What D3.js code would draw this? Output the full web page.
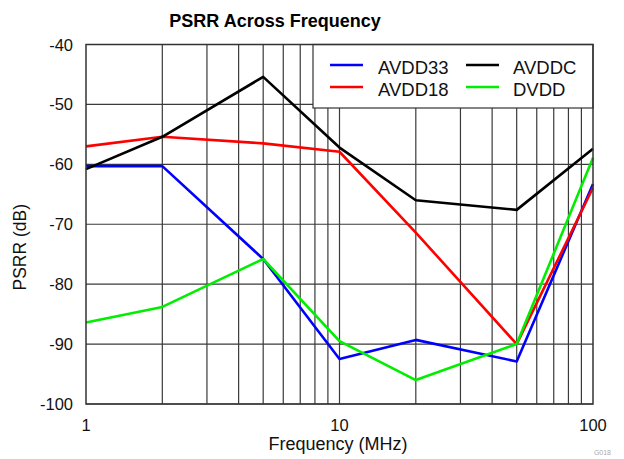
<!DOCTYPE html>
<html>
<head>
<meta charset="utf-8">
<script src="https://cdn.jsdelivr.net/npm/d3@7"></script>
<style>
  body { margin: 0; background: #fff; }
  text { font-family: "Liberation Sans", Arial, sans-serif; }
</style>
</head>
<body>
<svg id="chart" width="624" height="459"></svg>
<script>
const freqs = [1, 2, 5, 10, 20, 50, 100]
const avdd33 = [-60.3, -60.3, -75.8, -92.5, -89.3, -92.9, -63.3]
const avdd18 = [-57.0, -55.4, -56.5, -57.9, -71.4, -90.0, -63.9]
const avddc = [-60.8, -55.4, -45.4, -57.2, -66.0, -67.6, -57.4]
const dvdd = [-86.4, -83.8, -75.8, -89.5, -96.0, -90.0, -58.9]
const yTicks = [-100, -90, -80, -70, -60, -50, -40]
const xTicks = [1, 10, 100]

const series = [
  {name: 'AVDD33', values: avdd33, color: '#0000ff'},
  {name: 'AVDD18', values: avdd18, color: '#ff0000'},
  {name: 'AVDDC', values: avddc, color: '#000000'},
  {name: 'DVDD', values: dvdd, color: '#00ee00'},
]

const svg = d3.select('#chart')
const margin = {top: 44.5, right: 31, bottom: 55, left: 86}
const width = 624, height = 459

const x = d3.scaleLog().domain([1, 100]).range([margin.left, width - margin.right])
const y = d3.scaleLinear().domain([-100, -40]).range([height - margin.bottom, margin.top])

// grid
const minor = []
for (let d = 1; d < 100; d *= 10) for (let k = 2; k <= 9; k++) minor.push(d * k)
minor.push(10)

svg.append('g').selectAll('line').data(minor).enter().append('line')
  .attr('x1', d => x(d)).attr('x2', d => x(d))
  .attr('y1', y(-40)).attr('y2', y(-100))
  .attr('stroke', '#3a3a3a').attr('stroke-width', 1.2)

svg.append('g').selectAll('line').data(yTicks).enter().append('line')
  .attr('x1', x(1)).attr('x2', x(100))
  .attr('y1', d => y(d)).attr('y2', d => y(d))
  .attr('stroke', '#3a3a3a').attr('stroke-width', 1.2)

// legend box (covers grid)
const lg = svg.append('g')
lg.append('rect')
  .attr('x', 313).attr('y', y(-40)).attr('width', x(100) - 313).attr('height', 108 - y(-40))
  .attr('fill', '#fff').attr('stroke', '#333').attr('stroke-width', 1.2)

// lines
const line = d3.line().x((d, i) => x(freqs[i])).y(d => y(d))
svg.append('g').selectAll('path').data(series).enter().append('path')
  .attr('d', d => line(d.values))
  .attr('fill', 'none')
  .attr('stroke', d => d.color)
  .attr('stroke-width', 2.6)
  .attr('stroke-linejoin', 'round')

// frame
svg.append('rect')
  .attr('x', x(1)).attr('y', y(-40)).attr('width', x(100) - x(1)).attr('height', y(-100) - y(-40))
  .attr('fill', 'none').attr('stroke', '#333').attr('stroke-width', 1.5)

// legend entries
const legendPos = [
  {lx: 330, tx: 378, ty: 65},
  {lx: 330, tx: 378, ty: 87},
  {lx: 466, tx: 513, ty: 65},
  {lx: 466, tx: 513, ty: 87},
]
series.forEach((s, i) => {
  const p = legendPos[i]
  lg.append('line').attr('x1', p.lx).attr('x2', p.lx + 33).attr('y1', p.ty).attr('y2', p.ty)
    .attr('stroke', s.color).attr('stroke-width', 2.6)
  lg.append('text').attr('x', p.tx).attr('y', p.ty + 8.5).attr('font-size', 18.5).attr('fill', '#111')
    .text(s.name)
})

// axes labels
svg.append('g').selectAll('text').data(yTicks).enter().append('text')
  .attr('x', 73).attr('y', d => y(d) + 6)
  .attr('text-anchor', 'end').attr('font-size', 16.5).attr('fill', '#111')
  .text(d => d)

svg.append('g').selectAll('text').data(xTicks).enter().append('text')
  .attr('x', d => x(d)).attr('y', 431)
  .attr('text-anchor', 'middle').attr('font-size', 16.5).attr('fill', '#111')
  .text(d => d)

svg.append('text').attr('x', 338).attr('y', 450)
  .attr('text-anchor', 'middle').attr('font-size', 18).attr('fill', '#111')
  .text('Frequency (MHz)')

svg.append('text').attr('transform', `translate(26, ${(y(-40) + y(-100)) / 2 + 23}) rotate(-90)`)
  .attr('text-anchor', 'middle').attr('font-size', 17.5).attr('fill', '#111')
  .text('PSRR (dB)')

svg.append('text').attr('x', 275).attr('y', 27)
  .attr('text-anchor', 'middle').attr('font-size', 18).attr('font-weight', 'bold').attr('fill', '#000')
  .text('PSRR Across Frequency')

svg.append('text').attr('x', 611).attr('y', 455)
  .attr('text-anchor', 'end').attr('font-size', 7).attr('fill', '#aaa')
  .text('G018')
</script>
</body>
</html>
